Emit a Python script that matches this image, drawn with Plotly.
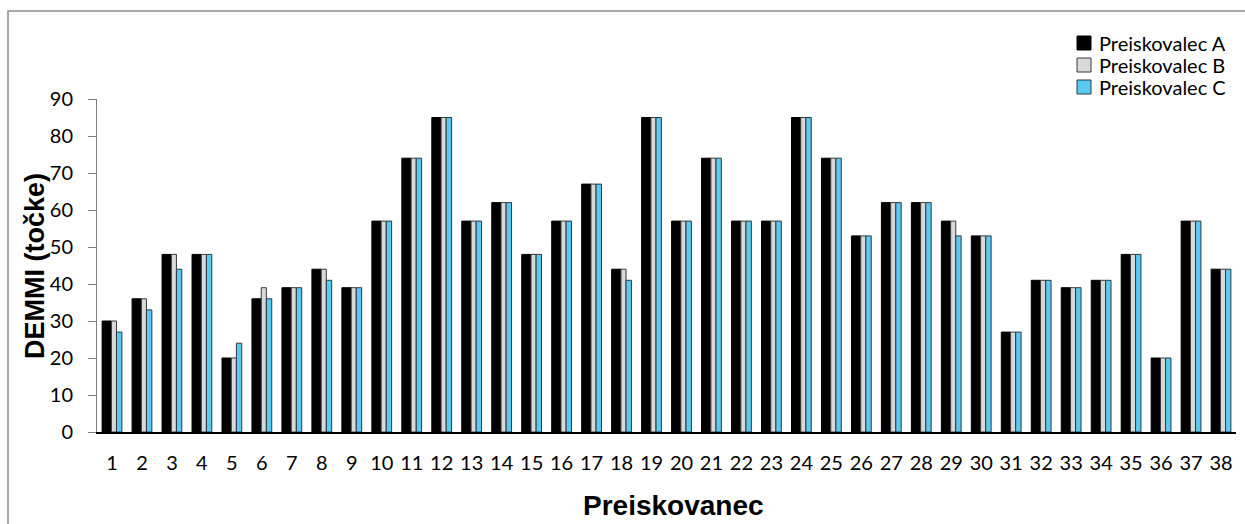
import plotly.graph_objects as go

# DEMMI scores per subject, rated by three examiners
subjects = [str(i) for i in range(1, 39)]
examiner_a = [30, 36, 48, 48, 20, 36, 39, 44, 39, 57, 74, 85, 57, 62, 48, 57, 67, 44, 85,
              57, 74, 57, 57, 85, 74, 53, 62, 62, 57, 53, 27, 41, 39, 41, 48, 20, 57, 44]
examiner_b = [30, 36, 48, 48, 20, 39, 39, 44, 39, 57, 74, 85, 57, 62, 48, 57, 67, 44, 85,
              57, 74, 57, 57, 85, 74, 53, 62, 62, 57, 53, 27, 41, 39, 41, 48, 20, 57, 44]
examiner_c = [27, 33, 44, 48, 24, 36, 39, 41, 39, 57, 74, 85, 57, 62, 48, 57, 67, 41, 85,
              57, 74, 57, 57, 85, 74, 53, 62, 62, 53, 53, 27, 41, 39, 41, 48, 20, 57, 44]
series_names = ["Preiskovalec A", "Preiskovalec B", "Preiskovalec C"]
y_ticks = [0, 10, 20, 30, 40, 50, 60, 70, 80, 90]

W, H = 1245, 524
ML, MR, MT, MB = 97, 9, 99, 92
PW, PH = W - ML - MR, H - MT - MB


def px(x):
    return (x - ML) / PW


def py(y):
    return (H - MB - y) / PH


base_font = "Lato, 'Open Sans', sans-serif"
tick_font = dict(family=base_font, size=20, color="#000000")

# bar look: the dark series is drawn a little wider, like a bevelled column
styles = [
    dict(color="#000000", line=dict(color="#000000", width=1), width=0.31, offset=-0.33),
    dict(color="#d9d9d9", line=dict(color="#3a3a3a", width=1), width=0.17, offset=-0.02),
    dict(color="#5bc9f2", line=dict(color="#2b3a44", width=1), width=0.18, offset=0.15),
]

fig = go.Figure()
for name, vals, st in zip(series_names, [examiner_a, examiner_b, examiner_c], styles):
    fig.add_trace(go.Bar(x=subjects, y=vals, name=name, showlegend=False,
                         marker=dict(color=st["color"], line=st["line"]),
                         width=st["width"], offset=st["offset"]))

# outer chart frame
fig.add_shape(type="rect", xref="paper", yref="paper",
              x0=px(8), x1=px(1300), y0=py(600), y1=py(11),
              line=dict(color="#8c8c8c", width=1.5), fillcolor="rgba(0,0,0,0)", layer="below")

# legend: swatches and labels
legend_rows = [43, 65, 87]
for name, st, yc in zip(series_names, styles, legend_rows):
    fig.add_shape(type="rect", xref="paper", yref="paper",
                  x0=px(1077), x1=px(1091), y0=py(yc + 7), y1=py(yc - 7),
                  fillcolor=st["color"], line=dict(color=st["line"]["color"], width=1))
    fig.add_annotation(text=name, xref="paper", yref="paper", x=px(1097), y=py(yc),
                       xanchor="left", yanchor="middle", showarrow=False,
                       font=dict(family=base_font, size=20, color="#000"))

title_font = dict(family="Liberation Sans, Arial", size=27, color="#000")
fig.add_annotation(text="<b>DEMMI (točke)</b>", xref="paper", yref="paper",
                   x=px(35), y=py(266), xanchor="center", yanchor="middle", textangle=-90,
                   showarrow=False, font=title_font)
fig.add_annotation(text="<b>Preiskovanec</b>", xref="paper", yref="paper",
                   x=px(673), y=py(505), xanchor="center", yanchor="middle",
                   showarrow=False, font=dict(title_font, size=28))

fig.update_layout(
    width=W, height=H,
    margin=dict(l=ML, r=MR, t=MT, b=MB),
    paper_bgcolor="white", plot_bgcolor="white",
    barmode="overlay",
    xaxis=dict(showline=True, linecolor="#000000", linewidth=2, ticks="",
               tickfont=tick_font, ticklabelstandoff=12, showgrid=False, zeroline=False),
    yaxis=dict(range=[0, 90], tickvals=y_ticks, showline=True, linecolor="#7f7f7f", linewidth=1,
               ticks="outside", ticklen=8, tickcolor="#7f7f7f", tickfont=tick_font,
               ticklabelstandoff=11, showgrid=False, zeroline=False),
)

fig.write_html("out.html")
